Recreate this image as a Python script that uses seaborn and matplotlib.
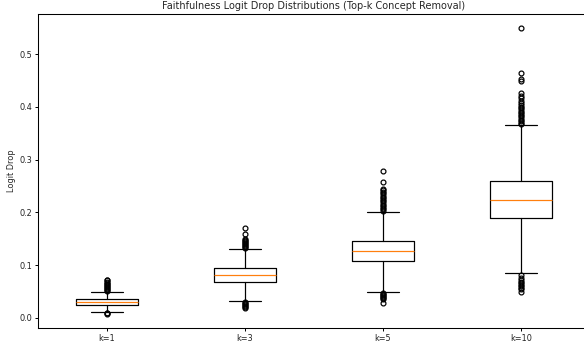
"""
Faithfulness logit-drop boxplots for top-k concept removal.
"""

import matplotlib
matplotlib.use("Agg")
import matplotlib.pyplot as plt
import seaborn as sns

sns.set_style("ticks")
plt.rcParams["font.family"] = ["DejaVu Sans"]

# ── Data ─────────────────────────────────────────────────────────────────────
labels = ["k=1", "k=3", "k=5", "k=10"]

whislo = [0.011, 0.033, 0.050, 0.086]
q1 = [0.0247, 0.068, 0.107, 0.1895]
med = [0.030, 0.081, 0.127, 0.2237]
q3 = [0.0355, 0.0945, 0.145, 0.260]
whishi = [0.050, 0.1306, 0.2015, 0.365]

fliers_k1 = [0.008, 0.009, 0.010,
             0.051, 0.053, 0.055, 0.057, 0.059, 0.061, 0.063, 0.065,
             0.067, 0.069, 0.071, 0.072]
fliers_k3 = [0.019, 0.021, 0.023, 0.025, 0.027, 0.029, 0.031,
             0.132, 0.134, 0.136, 0.138, 0.140, 0.142, 0.144, 0.146,
             0.148, 0.150, 0.160, 0.170]
fliers_k5 = [0.029, 0.036, 0.038, 0.040, 0.042, 0.044, 0.046, 0.048,
             0.203, 0.206, 0.209, 0.212, 0.215, 0.218, 0.221, 0.224,
             0.227, 0.230, 0.233, 0.236, 0.239, 0.242, 0.244, 0.2585, 0.279]
fliers_k10 = [0.050, 0.054, 0.057, 0.060, 0.063, 0.066, 0.069, 0.072,
              0.075, 0.082,
              0.367, 0.370, 0.373, 0.376, 0.379, 0.382, 0.385, 0.388,
              0.391, 0.394, 0.397, 0.400, 0.404, 0.408, 0.412, 0.416,
              0.420, 0.4265, 0.450, 0.453, 0.465, 0.549]
fliers = [fliers_k1, fliers_k3, fliers_k5, fliers_k10]

stats = [
    dict(label=lab, whislo=lo, q1=a, med=m, q3=b, whishi=hi, fliers=f)
    for lab, lo, a, m, b, hi, f in zip(labels, whislo, q1, med, q3, whishi, fliers)
]

# ── Plot ─────────────────────────────────────────────────────────────────────
DPI = 58.4
LW = 1.5
fig = plt.figure(figsize=(584 / DPI, 343 / DPI), dpi=DPI)
ax = fig.add_axes([38 / 584, 15 / 343, 552 / 584, 314 / 343])

ax.bxp(
    stats,
    boxprops=dict(color="black", linewidth=LW),
    whiskerprops=dict(color="black", linewidth=LW),
    capprops=dict(color="black", linewidth=LW),
    medianprops=dict(color="C1", linewidth=LW),
    flierprops=dict(marker="o", markerfacecolor="none",
                    markeredgecolor="black", markersize=6,
                    markeredgewidth=LW),
)

for side in ["top", "right", "left", "bottom"]:
    ax.spines[side].set_visible(True)
    ax.spines[side].set_color("black")
    ax.spines[side].set_linewidth(1.3)
ax.tick_params(colors="black", labelcolor="#222222", width=1.2)

ax.set_title("Faithfulness Logit Drop Distributions (Top-k Concept Removal)",
             fontsize=12)
ax.set_ylabel("Logit Drop", fontsize=10)
ax.set_yticks([0.0, 0.1, 0.2, 0.3, 0.4, 0.5])

fig.savefig("out.png", dpi=DPI)
